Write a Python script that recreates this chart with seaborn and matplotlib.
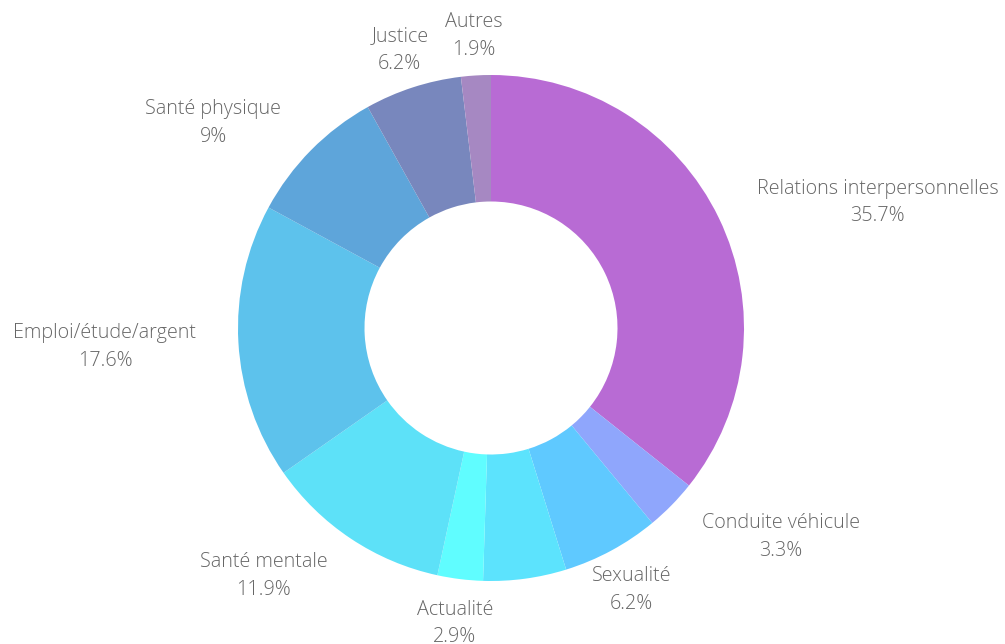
import numpy as np
import matplotlib
matplotlib.use("Agg")
import matplotlib.pyplot as plt
import seaborn as sns

categories = ["Relations interpersonnelles", "Conduite véhicule", "Sexualité", "",
              "Actualité", "Santé mentale", "Emploi/étude/argent", "Santé physique",
              "Justice", "Autres"]
values = [35.7, 3.3, 6.2, 5.3, 2.9, 11.9, 17.6, 9.0, 6.2, 1.9]
colors = ["#b86bd4", "#8fa6fc", "#5fc9ff", "#5ce3fd", "#60fdff", "#5de1f8",
          "#5dc2ec", "#5ea5da", "#7887bd", "#a688c2"]

sns.set_theme(style="white")
plt.rcParams['font.family'] = ['Open Sans', 'DejaVu Sans']

W, H = 1005, 644
fig = plt.figure(figsize=(W / 100, H / 100), dpi=100)
ax = fig.add_axes([0, 0, 1, 1])

cx, cy = 491, H - 328
R, r_in = 253, 126.5

ax.pie(values, colors=colors, startangle=90, counterclock=False,
       center=(cx, cy), radius=R, frame=True,
       wedgeprops=dict(width=R - r_in, linewidth=0))
ax.set_xlim(0, W)
ax.set_ylim(0, H)
ax.set_aspect('equal')
ax.axis('off')

total = sum(values)
cum = 0.0
r_lab = 295
for name, v in zip(categories, values):
    mid = (cum + v / 2) / total * 2 * np.pi
    cum += v
    if not name:
        continue
    s, c = np.sin(mid), np.cos(mid)
    x = cx + r_lab * s
    y = cy + r_lab * c - 2.5
    if s > 0.5:
        ha = 'left'
    elif s < -0.5:
        ha = 'right'
    else:
        ha = 'center'
    ax.text(x, y, f"{name}\n{v:g}%", ha=ha, va='center', multialignment='center',
            fontsize=14.2, color='#666666', fontweight='light', linespacing=1.5)

fig.savefig("out.png", dpi=100, facecolor='white')
